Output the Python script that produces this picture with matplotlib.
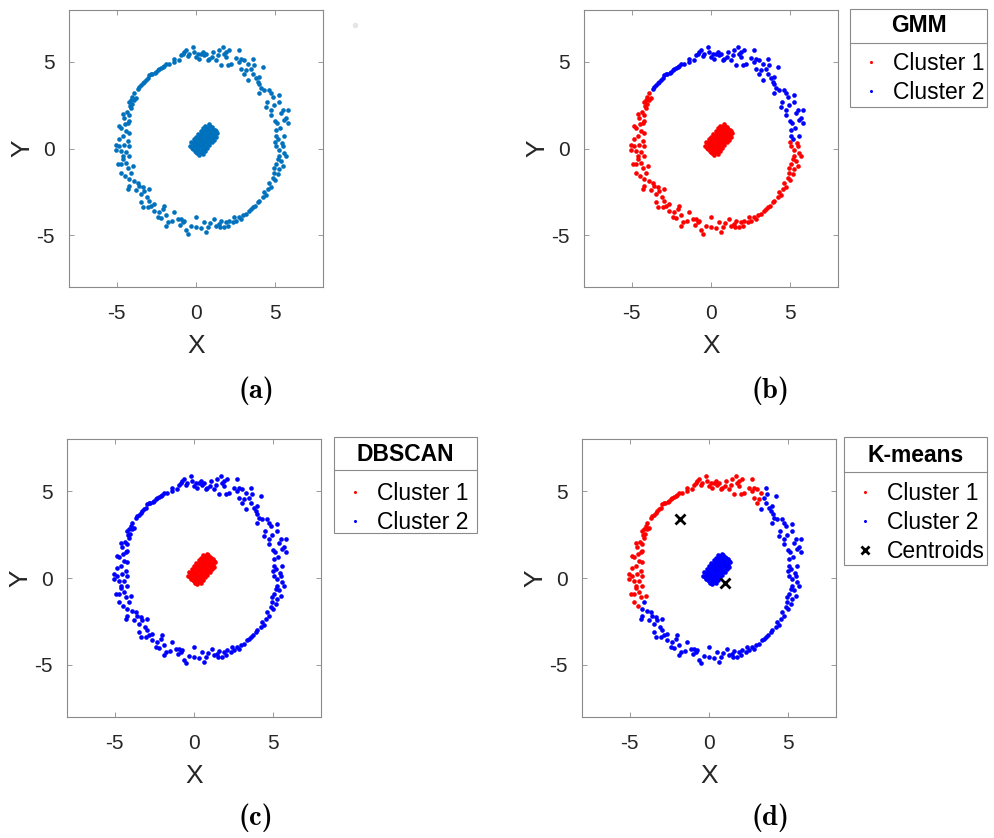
import matplotlib
matplotlib.use("Agg")
import matplotlib.pyplot as plt
from matplotlib.lines import Line2D
from matplotlib.patches import Rectangle

plt.rcParams['font.family'] = ['Liberation Sans', 'DejaVu Sans']
plt.rcParams['axes.unicode_minus'] = False

# ---------------- data ----------------
# inner elongated cluster
inner_x = [-0.09, -0.18, 0.00, -0.27, 0.09, -0.35, 0.17,
           0.06, -0.03, 0.15, -0.12, 0.24, -0.20, 0.32, -0.29, 0.41,
           0.21, 0.12, 0.30, 0.03, 0.39, -0.05, 0.47, -0.14, 0.56,
           0.35, 0.26, 0.44, 0.17, 0.53, 0.09, 0.61, 0.00, 0.70,
           0.50, 0.41, 0.59, 0.32, 0.68, 0.24, 0.76, 0.15, 0.85,
           0.65, 0.56, 0.74, 0.47, 0.83, 0.39, 0.91, 0.30, 1.00,
           0.80, 0.71, 0.89, 0.62, 0.98, 0.54, 1.06, 0.45, 1.15,
           0.94, 0.85, 1.03, 0.76, 1.12, 0.68, 1.20, 0.59, 1.29,
           1.09, 1.00, 1.18, 0.91, 1.27, 0.83, 1.35]
inner_y = [-0.12, -0.04, -0.20, 0.04, -0.28, 0.13, -0.37,
           0.04, 0.12, -0.04, 0.20, -0.12, 0.29, -0.21, 0.37, -0.29,
           0.20, 0.28, 0.12, 0.36, 0.04, 0.45, -0.05, 0.53, -0.13,
           0.36, 0.44, 0.28, 0.52, 0.20, 0.61, 0.11, 0.69, 0.03,
           0.52, 0.60, 0.44, 0.68, 0.36, 0.77, 0.27, 0.85, 0.19,
           0.68, 0.76, 0.60, 0.84, 0.52, 0.93, 0.43, 1.01, 0.35,
           0.83, 0.91, 0.75, 0.99, 0.67, 1.08, 0.58, 1.16, 0.50,
           0.99, 1.07, 0.91, 1.15, 0.83, 1.24, 0.74, 1.32, 0.66,
           1.15, 1.23, 1.07, 1.31, 0.99, 1.40, 0.90]

# ring, top arc (upper-left to top)
top_x = [-0.74, -0.84, -0.63, -0.95, -0.42, -0.21, -0.11, 0.00, 0.11, 0.21, 0.42, 0.53,
         0.63, 0.74, 0.84, 1.09, 1.26, 1.37, 1.47, 1.68, 1.79, 1.89, 1.58, 2.00, 2.10,
         2.21, 2.73, 2.84, 2.73, 3.05, 2.84, 3.15,
         -3.57, -3.36, -3.15, -3.05, -2.94, -2.84, -2.52, -2.42, -2.31, -2.10, -1.89,
         -1.68, -1.37, -1.37,
         -1.10, -0.50, 0.30, 1.00, 1.90, 2.50, 3.30, 3.00, -2.20, -2.00, -2.60, -2.75,
         -3.25, -3.45, -3.65]
top_y = [5.57, 5.48, 5.67, 5.38, 5.48, 5.86, 5.57, 5.29, 5.48, 5.19, 5.57, 5.38,
         5.48, 5.10, 5.19, 5.57, 5.10, 5.38, 5.67, 5.86, 5.48, 5.29, 4.81, 4.81, 5.67,
         4.90, 5.67, 5.19, 5.00, 5.10, 4.62, 4.52,
         3.57, 3.76, 3.95, 4.05, 4.24, 4.33, 4.43, 4.52, 4.62, 4.71, 4.90,
         4.90, 5.00, 5.19,
         5.10, 5.35, 5.45, 5.30, 5.60, 5.20, 4.90, 4.30, 4.65, 4.75, 4.38, 4.30,
         3.85, 3.65, 3.45]

# ring, right arc
right_x = [3.47, 3.57, 3.68, 3.26, 3.78, 3.89, 3.99, 4.20, 4.10, 3.95, 4.31, 4.41,
           4.62, 4.73, 4.83, 4.73, 4.73, 5.25, 5.25, 5.36, 5.46, 5.57, 5.67, 5.78,
           5.78, 5.04, 5.04, 5.15, 5.57,
           3.60, 4.00, 4.50, 4.90, 5.10, 4.95, 5.30]
right_y = [4.62, 5.19, 4.81, 3.95, 4.05, 3.85, 4.14, 4.71, 3.47, 3.19, 3.38, 2.42,
           3.38, 3.19, 3.00, 2.23, 1.95, 3.09, 2.71, 2.04, 2.23, 1.66, 1.76, 2.23,
           1.47, 1.09, 0.71, 0.52, 0.71,
           4.30, 3.70, 2.70, 2.50, 1.50, 1.60, 1.20]

# ring, bottom arc (lower-right to lower-left)
bottom_x = [5.04, 5.25, 5.46, 5.57, 5.67, 5.25, 5.15, 5.04, 5.46, 5.25, 4.94, 5.15,
            4.83, 4.62, 4.52, 4.31, 4.20, 3.99, 3.89, 3.47, 3.36, 3.15, 2.94, 2.84,
            2.52, 2.42, 2.31, 2.10, 2.00, 1.89, 1.79, 1.47, 1.26, 1.16, 0.74, 0.63,
            0.53, 0.00, 0.00, -0.53, -0.63, -0.74, -0.95, -0.84, -1.16, -1.37, -1.89,
            -1.79, -1.89, -2.00, -2.31, -2.42, -2.63, -2.63, -2.84, -2.94, -3.47,
            -3.36, -3.47, -2.94, -3.26, -3.36, -3.57, -3.68, -4.20, -4.31, -4.20,
            5.00, 5.40, 5.35, 4.90, 5.00, 4.70, 4.40, 3.70, 3.60, 2.70, 1.60, 1.50,
            0.90, 0.30, -0.30, -1.00, -1.50, -2.10, -2.20, -3.10, -3.00, -3.90, -3.80,
            -4.10]
bottom_y = [0.13, -0.06, 0.13, -0.25, -0.44, -0.44, -0.63, -0.92, -1.01, -1.20, -1.39,
            -1.49, -1.68, -1.97, -2.35, -2.54, -2.82, -3.02, -3.11, -3.49, -3.59, -3.78,
            -3.87, -4.06, -4.16, -3.97, -4.26, -4.16, -4.45, -4.26, -4.54, -4.35, -4.45,
            -4.06, -4.54, -4.83, -4.26, -3.97, -4.54, -4.92, -4.73, -4.16, -4.06, -4.26,
            -4.06, -3.68, -3.87, -4.26, -4.45, -3.30, -3.68, -3.97, -3.21, -3.59, -3.30,
            -3.02, -3.11, -3.40, -2.63, -2.35, -2.44, -2.25, -2.16, -1.97, -2.16, -2.35,
            -1.77,
            0.40, 0.30, -0.70, -1.10, -1.80, -2.20, -2.70, -3.30, -3.40, -3.95, -4.20,
            -4.55, -4.30, -4.60, -4.50, -4.40, -4.20, -3.50, -4.00, -2.80, -3.40, -1.90,
            -2.40, -1.40]

# ring, left arc
left_x = [-3.99, -4.31, -4.41, -4.73, -4.73, -4.94, -4.62, -4.20, -4.83, -4.73, -5.04,
          -5.04, -4.52, -4.20, -4.31, -4.20, -4.41, -4.73, -4.83, -4.31, -4.20, -4.52,
          -4.20, -4.10, -4.20, -3.89, -3.78, -4.10, -3.89,
          -4.50, -4.60, -4.40, -4.85, -4.60, -4.50, -4.35, -4.60, -4.00, -4.05, -4.15]
left_y = [-1.01, -1.11, -0.82, -1.39, -0.92, -0.92, -0.44, -0.44, 0.13, -0.15, -0.06,
          0.23, 0.23, 0.13, 0.42, 0.90, 0.99, 1.18, 1.28, 1.47, 1.56, 1.76,
          1.95, 2.33, 2.71, 2.81, 2.90, 2.81, 3.19,
          -1.60, -0.60, -0.20, 0.55, 0.70, 1.40, 2.10, 2.00, 3.00, 2.55, 2.45]

# K-means centroids
centroid_x = [-1.82, 1.00]
centroid_y = [3.39, -0.29]

axis_lim = [-8, 8]
ticks = [-5, 0, 5]
tick_labels = ['-5', '0', '5']
captions = ['(a)', '(b)', '(c)', '(d)']

# ---------------- figure ----------------
W, H = 995, 838
fig = plt.figure(figsize=(W / 100, H / 100), dpi=100)

def px_axes(l, t, r, b):
    return fig.add_axes([l / W, 1 - b / H, (r - l) / W, (b - t) / H])

MATLAB_BLUE = '#0072BD'
RED = '#FF0000'
BLUE = '#0000FF'
FRAME = '#8a8a8a'
TXT = '#262626'
S = 11

def style(ax):
    ax.set_xlim(axis_lim)
    ax.set_ylim(axis_lim)
    ax.set_xticks(ticks)
    ax.set_xticklabels(tick_labels)
    ax.set_yticks(ticks)
    ax.set_yticklabels(tick_labels)
    ax.tick_params(direction='in', length=3.5, width=0.6, color=FRAME,
                   top=True, right=True, labelsize=15, labelcolor=TXT)
    ax.tick_params(axis='x', pad=12.5)
    ax.tick_params(axis='y', pad=10.5)
    for sp in ax.spines.values():
        sp.set_color(FRAME)
        sp.set_linewidth(0.8)
    ax.set_xlabel('X', fontsize=19, color=TXT, va='center')
    ax.set_ylabel('Y', fontsize=19, color=TXT, va='center')
    ax.xaxis.set_label_coords(0.5, -(346 - 287) / 277)
    ax.yaxis.set_label_coords(-(69 - 22) / 254, 0.5)

def sc(ax, xs, ys, c):
    ax.scatter(xs, ys, s=S, c=c, linewidths=0, zorder=2)

ring_x = top_x + right_x + bottom_x + left_x
ring_y = top_y + right_y + bottom_y + left_y

# (a) raw data
axa = px_axes(69, 10, 323, 287)
sc(axa, ring_x, ring_y, MATLAB_BLUE)
sc(axa, inner_x, inner_y, MATLAB_BLUE)
style(axa)

# (b) GMM
axb = px_axes(584, 10, 838, 287)
sc(axb, left_x + bottom_x + inner_x, left_y + bottom_y + inner_y, RED)
sc(axb, top_x + right_x, top_y + right_y, BLUE)
style(axb)

# (c) DBSCAN
axc = px_axes(67, 439, 321, 717)
sc(axc, inner_x, inner_y, RED)
sc(axc, ring_x, ring_y, BLUE)
style(axc)

# (d) K-means
axd = px_axes(582, 439, 836, 717)
sc(axd, top_x + left_x, top_y + left_y, RED)
sc(axd, right_x + bottom_x + inner_x, right_y + bottom_y + inner_y, BLUE)
axd.plot(centroid_x, centroid_y, ls='', marker='x', color='black',
         markersize=7, mew=2, zorder=3)
style(axd)

# faint artifact dot in panel (a) corner
fig.add_artist(Line2D([355 / W], [1 - 25 / H], marker='o', markersize=3,
                      color='#e6e6e6', ls='', transform=fig.transFigure))

# legends
FS = 16.5

def make_legend(ax, handles, labels, title, box, sep_y, title_y, entry_y):
    l, t, r, b = box
    fig.add_artist(Rectangle((l / W, 1 - b / H), (r - l) / W, (b - t) / H,
                             transform=fig.transFigure, fill=True, facecolor='white',
                             edgecolor=FRAME, linewidth=0.8, zorder=-1))
    fig.add_artist(Line2D([l / W, r / W], [1 - sep_y / H, 1 - sep_y / H],
                          color=FRAME, linewidth=0.8, transform=fig.transFigure))
    fig.text((l + r) / 2 / W, 1 - title_y / H, title, fontsize=FS, fontweight='bold',
             color='black', ha='center', va='center')
    leg = ax.legend(handles, labels, loc='upper left',
                    bbox_to_anchor=((l + 7) / W, 1 - (entry_y - 10) / H),
                    bbox_transform=fig.transFigure, borderaxespad=0, borderpad=0,
                    frameon=False, fontsize=FS, handlelength=1.26,
                    handletextpad=0.3, labelspacing=0.26)
    for txt in leg.get_texts():
        txt.set_color('black')
    return leg

h_red = Line2D([], [], ls='', marker='o', markersize=2.2, color=RED, mew=0)
h_blue = Line2D([], [], ls='', marker='o', markersize=2.2, color=BLUE, mew=0)
h_cent = Line2D([], [], ls='', marker='x', markersize=6, color='black', mew=2)

make_legend(axb, [h_red, h_blue], ['Cluster 1', 'Cluster 2'], 'GMM',
            (850, 9, 987, 107), 43, 25, 62)
make_legend(axc, [h_red, h_blue], ['Cluster 1', 'Cluster 2'], 'DBSCAN',
            (334, 437, 477, 533), 470, 454, 492)
make_legend(axd, [h_red, h_blue, h_cent], ['Cluster 1', 'Cluster 2', 'Centroids'],
            'K-means', (844, 437, 987, 565), 472, 455, 492)

# captions (bold Computer Modern, as in the LaTeX sub-captions)
cap_pos = [(256, 391), (771, 391), (256, 818), (771, 818)]
for cap, (cx, cy) in zip(captions, cap_pos):
    fig.text(cx / W, 1 - cy / H, cap, fontsize=20.5, family=['cmb10', 'DejaVu Serif'],
             ha='center', va='center', color='black')

fig.savefig('out.png', dpi=100)
